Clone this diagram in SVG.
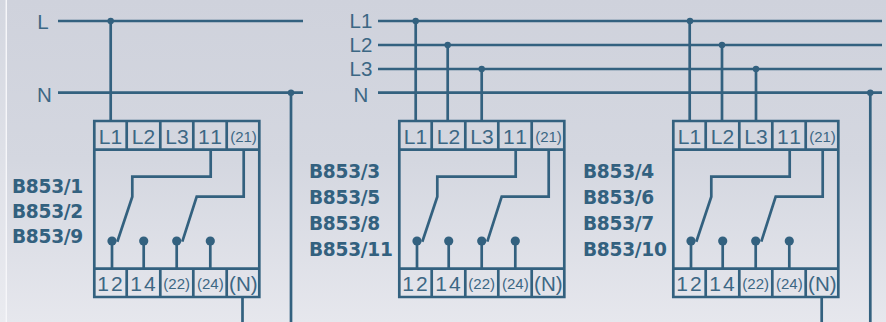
<svg xmlns="http://www.w3.org/2000/svg" width="886" height="322" viewBox="0 0 886 322">
<defs>
<linearGradient id="bg" x1="0" y1="0" x2="0" y2="1"><stop offset="0" stop-color="#cfd2dc"/><stop offset="0.5" stop-color="#d4d7e0"/><stop offset="1" stop-color="#e6e7ed"/></linearGradient>
<linearGradient id="side" x1="0" y1="0" x2="0" y2="1"><stop offset="0" stop-color="#d4d7e0"/><stop offset="1" stop-color="#eaebf0"/></linearGradient>
<style>
.w{fill:none;stroke:#33617f;stroke-width:2.7}
.d{fill:#33617f}
.t{font-family:"Liberation Sans",Arial,sans-serif;fill:#3c6784;text-anchor:middle;font-size:21px}
.s{font-size:15px}
.p{font-size:20.500px}
.b{font-family:"DejaVu Sans",Verdana,sans-serif;font-weight:700;font-size:18.600px;letter-spacing:-0.3px;fill:#33617f}
.l{font-family:"Liberation Sans",Arial,sans-serif;fill:#3c6784;font-size:20.500px;text-anchor:middle}
</style>
</defs>
<rect width="886" height="322" fill="url(#bg)"/>
<rect width="5.500" height="322" fill="url(#side)"/>
<rect x="5.500" width="1.500" height="322" fill="#f6f6f9"/>
<text class="l" x="43" y="29">L</text><text class="l" x="44.500" y="102">N</text>
<text class="l" x="361" y="28">L1</text><text class="l" x="361" y="52">L2</text><text class="l" x="361" y="76">L3</text><text class="l" x="361" y="102">N</text>
<g id="connectors">
<path class="w" d="M58 21H303M58 92.700H303M110.700 21V121M291 92.700V322M242.500 297V322"/>
<circle class="d" cx="110.700" cy="21" r="3.200"/><circle class="d" cx="291" cy="92.700" r="3.200"/>
<path class="w" d="M378 21H882M378 45H882M378 69H882M378 92.700H882"/>
<path class="w" d="M415.700 21V121M447.700 45V121M481.700 69V121M689.700 21V121M722 45V121M756 69V121M870.300 92.700V322M821.700 297V322"/>
<circle class="d" cx="415.700" cy="21" r="3.200"/><circle class="d" cx="447.700" cy="45" r="3.200"/><circle class="d" cx="481.700" cy="69" r="3.200"/><circle class="d" cx="690" cy="21" r="3.200"/><circle class="d" cx="722" cy="45" r="3.200"/><circle class="d" cx="756" cy="69" r="3.200"/><circle class="d" cx="870.300" cy="92.700" r="3.200"/>
</g>
<g id="module-1">
<path class="w" d="M94.300 121H259.300V297H94.300ZM94.300 149.700H259.300M94.300 268.700H259.300M126.700 121V149.700M160.300 121V149.700M193.300 121V149.700M226.700 121V149.700M126.700 268.700V297M160.300 268.700V297M193.300 268.700V297M226.700 268.700V297"/>
<path class="w" d="M210.700 149.700V176.700H132.300V196.700L117.300 241.700M243.700 149.700V196.700H196.700L182.300 241.700M112 241V268.700M143.700 241V268.700M176.700 241V268.700M210.300 241V268.700"/>
<circle class="d" cx="112" cy="241" r="4.600"/><circle class="d" cx="143.700" cy="241" r="4.600"/><circle class="d" cx="176.700" cy="241" r="4.600"/><circle class="d" cx="210.300" cy="241" r="4.600"/>
<text class="t" x="110.500" y="144">L1</text><text class="t" x="143.500" y="144">L2</text><text class="t" x="177" y="144">L3</text><text class="t" x="211" y="144" letter-spacing="2">11</text><text class="t s" x="243.500" y="141.700">(21)</text>
<text class="t" x="111" y="291" letter-spacing="2">12</text><text class="t" x="144" y="291" letter-spacing="2">14</text><text class="t s" x="176.700" y="289.300">(22)</text><text class="t s" x="210.300" y="289.300">(24)</text><text class="t p" x="243.300" y="291">(N)</text>
<text class="b" x="12" y="192.700">B853/1</text><text class="b" x="12" y="218">B853/2</text><text class="b" x="12" y="243.300">B853/9</text>
</g>
<g id="module-2" transform="translate(305 0)">
<path class="w" d="M94.300 121H259.300V297H94.300ZM94.300 149.700H259.300M94.300 268.700H259.300M126.700 121V149.700M160.300 121V149.700M193.300 121V149.700M226.700 121V149.700M126.700 268.700V297M160.300 268.700V297M193.300 268.700V297M226.700 268.700V297"/>
<path class="w" d="M210.700 149.700V176.700H132.300V196.700L117.300 241.700M243.700 149.700V196.700H196.700L182.300 241.700M112 241V268.700M143.700 241V268.700M176.700 241V268.700M210.300 241V268.700"/>
<circle class="d" cx="112" cy="241" r="4.600"/><circle class="d" cx="143.700" cy="241" r="4.600"/><circle class="d" cx="176.700" cy="241" r="4.600"/><circle class="d" cx="210.300" cy="241" r="4.600"/>
<text class="t" x="110.500" y="144">L1</text><text class="t" x="143.500" y="144">L2</text><text class="t" x="177" y="144">L3</text><text class="t" x="211" y="144" letter-spacing="2">11</text><text class="t s" x="243.500" y="141.700">(21)</text>
<text class="t" x="111" y="291" letter-spacing="2">12</text><text class="t" x="144" y="291" letter-spacing="2">14</text><text class="t s" x="176.700" y="289.300">(22)</text><text class="t s" x="210.300" y="289.300">(24)</text><text class="t p" x="243.300" y="291">(N)</text>
<text class="b" x="4" y="178.300">B853/3</text><text class="b" x="4" y="204">B853/5</text><text class="b" x="4" y="229.500">B853/8</text><text class="b" x="4" y="255.500">B853/11</text>
</g>
<g id="module-3" transform="translate(579 0)">
<path class="w" d="M94.300 121H259.300V297H94.300ZM94.300 149.700H259.300M94.300 268.700H259.300M126.700 121V149.700M160.300 121V149.700M193.300 121V149.700M226.700 121V149.700M126.700 268.700V297M160.300 268.700V297M193.300 268.700V297M226.700 268.700V297"/>
<path class="w" d="M210.700 149.700V176.700H132.300V196.700L117.300 241.700M243.700 149.700V196.700H196.700L182.300 241.700M112 241V268.700M143.700 241V268.700M176.700 241V268.700M210.300 241V268.700"/>
<circle class="d" cx="112" cy="241" r="4.600"/><circle class="d" cx="143.700" cy="241" r="4.600"/><circle class="d" cx="176.700" cy="241" r="4.600"/><circle class="d" cx="210.300" cy="241" r="4.600"/>
<text class="t" x="110.500" y="144">L1</text><text class="t" x="143.500" y="144">L2</text><text class="t" x="177" y="144">L3</text><text class="t" x="211" y="144" letter-spacing="2">11</text><text class="t s" x="243.500" y="141.700">(21)</text>
<text class="t" x="111" y="291" letter-spacing="2">12</text><text class="t" x="144" y="291" letter-spacing="2">14</text><text class="t s" x="176.700" y="289.300">(22)</text><text class="t s" x="210.300" y="289.300">(24)</text><text class="t p" x="243.300" y="291">(N)</text>
<text class="b" x="4" y="178.300">B853/4</text><text class="b" x="4" y="204">B853/6</text><text class="b" x="4" y="229.500">B853/7</text><text class="b" x="4" y="255.500">B853/10</text>
</g>
</svg>
